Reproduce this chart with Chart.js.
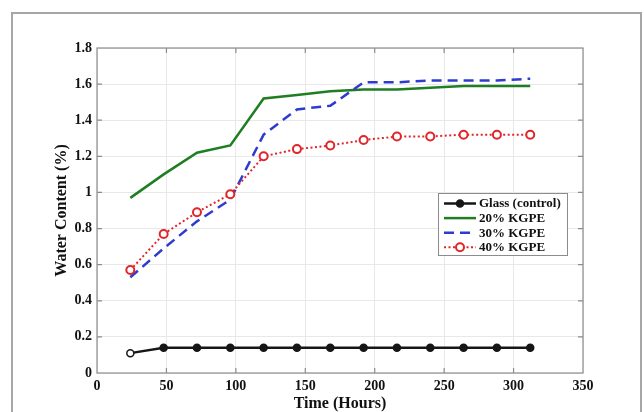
<!DOCTYPE html>
<html>
<head>
<meta charset="utf-8">
<script src="https://cdn.jsdelivr.net/npm/chart.js@4/dist/chart.umd.min.js"></script>
<style>
  html, body { margin: 0; padding: 0; background: #fff; }
  #wrap { width: 644px; height: 412px; }
</style>
</head>
<body>
<div id="wrap"><canvas id="chart" width="644" height="412"></canvas></div>
<script>
const hours = [24, 48, 72, 96, 120, 144, 168, 192, 216, 240, 264, 288, 312];
const glass = [0.11, 0.14, 0.14, 0.14, 0.14, 0.14, 0.14, 0.14, 0.14, 0.14, 0.14, 0.14, 0.14];
const kgpe20 = [0.97, 1.10, 1.22, 1.26, 1.52, 1.54, 1.56, 1.57, 1.57, 1.58, 1.59, 1.59, 1.59];
const kgpe30 = [0.53, 0.69, 0.84, 0.96, 1.32, 1.46, 1.48, 1.61, 1.61, 1.62, 1.62, 1.62, 1.63];
const kgpe40 = [0.57, 0.77, 0.89, 0.99, 1.20, 1.24, 1.26, 1.29, 1.31, 1.31, 1.32, 1.32, 1.32];
const seriesNames = ["Glass (control)", "20% KGPE", "30% KGPE", "40% KGPE"];

const serif = "'Liberation Serif', 'Times New Roman', serif";
const textColor = "#111";
const boxColor = "#8c8c8c";

const pts = (ys) => hours.map((x, i) => ({ x, y: ys[i] }));

// figure frame, plot box with inward ticks, and the legend
const matlabLook = {
    id: "matlabLook",
    beforeDraw(chart) {
        const ctx = chart.ctx;
        ctx.save();
        ctx.strokeStyle = "#a6a6a6";
        ctx.lineWidth = 2;
        ctx.strokeRect(12, 13, 629, 420);
        ctx.restore();
    },
    afterDatasetsDraw(chart) {
        const { ctx, chartArea: a, scales } = chart;
        ctx.save();
        ctx.strokeStyle = boxColor;
        ctx.lineWidth = 1.2;
        ctx.strokeRect(a.left, a.top, a.right - a.left, a.bottom - a.top);
        ctx.beginPath();
        for (let v = 50; v < 350; v += 50) {
            const x = scales.x.getPixelForValue(v);
            ctx.moveTo(x, a.bottom); ctx.lineTo(x, a.bottom - 5);
            ctx.moveTo(x, a.top); ctx.lineTo(x, a.top + 5);
        }
        for (let i = 1; i < 9; i++) {
            const y = scales.y.getPixelForValue(i * 0.2);
            ctx.moveTo(a.left, y); ctx.lineTo(a.left + 5, y);
            ctx.moveTo(a.right, y); ctx.lineTo(a.right - 5, y);
        }
        ctx.stroke();

        // legend
        const lx = a.right - 145, ly = a.top + 145, lw = 129, lh = 62;
        ctx.fillStyle = "#fff";
        ctx.fillRect(lx, ly, lw, lh);
        ctx.strokeStyle = "#8c8c8c";
        ctx.lineWidth = 1;
        ctx.strokeRect(lx + 0.5, ly + 0.5, lw, lh);
        ctx.font = "bold 13px " + serif;
        ctx.textBaseline = "middle";
        ctx.textAlign = "left";
        chart.data.datasets.forEach((ds, i) => {
            const y = ly + 10.5 + i * 14.6;
            ctx.save();
            ctx.strokeStyle = ds.borderColor;
            ctx.lineWidth = ds.borderWidth;
            ctx.setLineDash(ds.borderDash || []);
            ctx.beginPath();
            ctx.moveTo(lx + 6, y);
            ctx.lineTo(lx + 38, y);
            ctx.stroke();
            ctx.setLineDash([]);
            if (ds.pointRadius > 0) {
                ctx.beginPath();
                ctx.arc(lx + 22, y, ds.pointRadius, 0, Math.PI * 2);
                const bg = ds.pointBackgroundColor;
                ctx.fillStyle = Array.isArray(bg) ? bg[bg.length - 1] : bg;
                ctx.fill();
                ctx.lineWidth = ds.pointBorderWidth;
                ctx.strokeStyle = ds.pointBorderColor;
                ctx.stroke();
            }
            ctx.restore();
            ctx.fillStyle = textColor;
            ctx.fillText(ds.label, lx + 41, y + 0.5);
        });
        ctx.restore();
    }
};

new Chart(document.getElementById("chart"), {
    type: "line",
    plugins: [matlabLook],
    data: {
        datasets: [
            {
                label: seriesNames[0],
                data: pts(glass),
                borderColor: "#161616",
                borderWidth: 2.5,
                pointRadius: 3.5,
                pointBorderWidth: 1.5,
                pointBorderColor: "#161616",
                pointBackgroundColor: ["#fff"].concat(glass.slice(1).map(() => "#161616")),
                order: 3,
            },
            {
                label: seriesNames[1],
                data: pts(kgpe20),
                borderColor: "#1f7d22",
                borderWidth: 2.5,
                pointRadius: 0,
                order: 2,
            },
            {
                label: seriesNames[2],
                data: pts(kgpe30),
                borderColor: "#2d3ccf",
                borderWidth: 2.5,
                borderDash: [10, 6],
                pointRadius: 0,
                order: 1,
            },
            {
                label: seriesNames[3],
                data: pts(kgpe40),
                borderColor: "#e0262a",
                borderWidth: 2,
                borderDash: [2, 2.5],
                pointRadius: 4,
                pointBorderWidth: 2,
                pointBorderColor: "#e0262a",
                pointBackgroundColor: "#fff",
                order: 0,
            },
        ],
    },
    options: {
        responsive: false,
        devicePixelRatio: 1,
        animation: false,
        layout: { padding: { top: 48, right: 61, left: 0, bottom: 0 } },
        plugins: {
            legend: { display: false },
            tooltip: { enabled: false },
        },
        scales: {
            x: {
                type: "linear",
                min: 0,
                max: 350,
                afterFit: (s) => { s.height = 39; },
                ticks: {
                    stepSize: 50,
                    padding: 5,
                    color: textColor,
                    font: { family: serif, size: 14, weight: "bold" },
                },
                grid: { color: "#e8e8e8", drawTicks: false },
                border: { display: false },
                title: {
                    display: true,
                    text: "Time (Hours)",
                    color: textColor,
                    padding: 0,
                    font: { family: serif, size: 16, weight: "bold", lineHeight: 1 },
                },
            },
            y: {
                min: 0,
                max: 1.8,
                afterFit: (s) => { s.width = 97; },
                ticks: {
                    stepSize: 0.2,
                    padding: 5,
                    color: textColor,
                    font: { family: serif, size: 14, weight: "bold" },
                    callback: (v) => String(parseFloat(v.toFixed(1))),
                },
                grid: { color: "#e8e8e8", drawTicks: false },
                border: { display: false },
                title: {
                    display: true,
                    text: "Water Content (%)",
                    color: textColor,
                    padding: { top: 54, bottom: 0 },
                    font: { family: serif, size: 16, weight: "bold", lineHeight: 1 },
                },
            },
        },
    },
});
</script>
</body>
</html>
